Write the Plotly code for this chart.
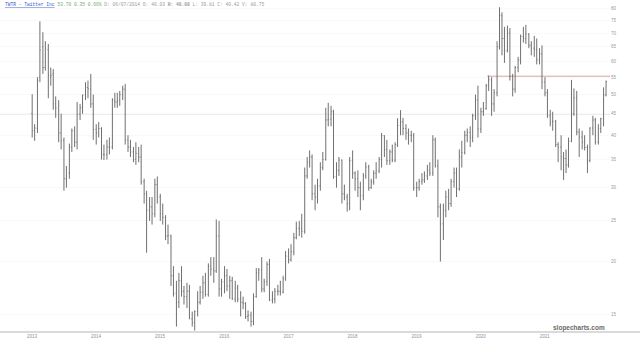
import math
import pandas as pd
import plotly.graph_objects as go

# ---- DATA: TWTR semi-monthly OHLC (Nov 2013 - Oct 2022) ----
period_start = "2013-11-01"
n_periods = 216

opens = [
    45.1, 41.0, 41.6, 55.0,
    65.0, 58.0, 64.0, 55.0, 56.0, 47.5, 46.0, 40.5, 38.9, 31.5, 32.5, 37.5,
    41.0, 38.5, 45.0, 46.5, 50.0, 52.0, 51.6, 47.5, 41.3, 40.5, 41.5, 36.0,
    36.0, 37.5, 37.5, 48.5, 48.0, 48.5, 50.0, 51.5, 39.0, 37.5, 36.5, 35.0,
    36.2, 35.5, 31.0, 29.0, 26.5, 27.0, 26.0, 30.5, 28.5, 26.0, 25.5, 23.0,
    23.0, 18.5, 16.8, 16.0, 18.0, 17.0, 16.5, 17.0, 14.6, 14.3, 15.2, 16.0,
    16.9, 17.8, 16.7, 19.5, 19.2, 19.0, 23.0, 17.2, 17.9, 18.5, 17.5, 18.0,
    16.3, 17.3, 16.3, 16.0, 15.9, 14.8, 14.9, 14.4, 16.5, 18.8, 19.1, 17.2,
    17.9, 19.7, 16.2, 16.3, 17.0, 17.0, 16.9, 18.2, 20.6, 20.2, 21.1, 22.8,
    24.0, 24.0, 23.6, 32.0, 34.5, 35.5, 29.0, 28.5, 30.3, 33.5, 35.0, 43.5,
    43.7, 45.5, 31.9, 33.0, 34.9, 29.0, 28.5, 27.5, 34.8, 32.5, 31.5, 30.0,
    28.7, 32.0, 33.6, 30.0, 31.0, 32.5, 32.9, 35.0, 39.9, 37.0, 34.8, 36.5,
    34.9, 38.0, 42.2, 43.0, 41.5, 40.5, 40.0, 40.0, 30.0, 30.0, 31.0, 31.3,
    32.0, 33.0, 32.5, 39.0, 33.8, 27.0, 24.6, 26.5, 28.5, 27.5, 31.0, 32.5,
    29.8, 35.5, 36.4, 40.0, 40.6, 39.5, 44.5, 48.5, 41.4, 45.5, 46.3, 52.5,
    54.2, 47.5, 50.5, 65.0, 77.0, 68.0, 63.6, 70.0, 55.2, 51.5, 58.0, 60.5,
    68.8, 68.0, 69.7, 65.5, 64.5, 64.0, 60.5, 62.5, 53.5, 50.5, 44.5, 43.0,
    43.2, 38.0, 37.5, 35.5, 35.2, 34.0, 38.7, 45.0, 49.1, 40.7, 39.6, 38.5,
    37.4, 34.8, 41.6, 43.5, 38.5, 41.5, 43.8, 49.9,
]
highs = [
    50.1, 42.5, 55.0, 74.7,
    70.4, 67.0, 66.0, 58.0, 57.5, 49.5, 48.5, 45.0, 39.5, 33.8, 38.2, 41.5,
    42.0, 48.0, 47.5, 50.0, 53.5, 54.0, 56.0, 50.0, 42.5, 43.0, 41.8, 38.0,
    39.0, 39.5, 49.0, 50.5, 50.5, 51.0, 52.5, 53.0, 40.0, 39.0, 37.5, 38.5,
    37.5, 38.0, 31.5, 29.5, 28.5, 28.5, 31.5, 31.9, 29.0, 27.5, 25.8, 24.5,
    23.2, 19.5, 18.0, 18.8, 19.5, 17.5, 17.8, 17.6, 15.2, 15.3, 17.0, 17.5,
    18.5, 18.8, 19.8, 20.5, 20.5, 25.2, 25.0, 18.2, 19.5, 19.2, 18.5, 18.4,
    18.0, 17.6, 17.0, 16.5, 16.0, 15.3, 15.2, 16.8, 19.3, 19.3, 20.5, 18.2,
    20.0, 20.3, 17.0, 17.3, 17.6, 18.0, 18.5, 21.2, 21.5, 22.0, 23.4, 24.9,
    25.0, 26.0, 33.5, 35.5, 36.8, 36.0, 30.5, 31.5, 34.5, 36.5, 46.5, 47.8,
    47.0, 46.0, 34.5, 35.5, 35.0, 30.5, 29.0, 35.5, 36.8, 32.8, 33.0, 31.0,
    32.5, 34.5, 34.0, 31.5, 33.0, 34.5, 35.5, 40.5, 40.0, 39.0, 37.0, 38.0,
    38.5, 43.9, 45.9, 44.0, 42.5, 41.5, 41.0, 40.5, 31.0, 31.5, 32.5, 32.8,
    34.0, 34.5, 40.0, 39.5, 35.0, 27.5, 27.5, 29.5, 29.8, 31.5, 33.5, 33.5,
    37.0, 38.8, 41.0, 41.5, 42.0, 45.0, 50.0, 52.5, 46.5, 48.0, 53.0, 55.5,
    55.0, 51.5, 67.0, 80.75, 78.5, 72.5, 73.0, 72.0, 56.0, 58.5, 61.5, 69.5,
    72.5, 73.3, 70.0, 67.0, 69.0, 68.0, 64.5, 65.5, 55.0, 51.5, 46.0, 45.5,
    43.5, 38.5, 40.0, 36.5, 37.0, 39.5, 54.2, 51.7, 51.0, 41.5, 41.0, 40.0,
    38.0, 41.8, 44.5, 44.0, 42.5, 44.0, 52.0, 54.0,
]
lows = [
    39.5, 38.8, 40.5, 53.5,
    56.0, 57.0, 49.0, 52.5, 46.0, 44.0, 38.5, 37.0, 29.5, 30.0, 31.5, 36.5,
    37.5, 37.0, 43.5, 45.0, 48.5, 49.0, 46.5, 39.0, 38.0, 39.5, 35.0, 34.9,
    35.0, 36.0, 37.0, 46.5, 46.5, 47.0, 48.5, 38.0, 36.5, 35.5, 34.5, 34.0,
    34.5, 30.5, 27.5, 21.0, 25.0, 24.5, 25.5, 27.5, 25.0, 24.5, 22.5, 22.0,
    17.5, 16.5, 14.0, 15.5, 16.5, 15.8, 15.5, 14.6, 14.0, 13.7, 14.8, 15.8,
    16.3, 16.5, 16.5, 18.5, 17.8, 18.8, 16.5, 16.5, 16.8, 17.0, 16.3, 16.2,
    16.0, 16.0, 14.8, 15.4, 14.6, 14.4, 14.0, 14.1, 16.4, 18.0, 16.9, 16.9,
    17.5, 16.1, 15.9, 15.9, 16.6, 16.6, 16.8, 18.0, 19.8, 20.0, 20.7, 22.6,
    23.0, 22.8, 23.3, 31.5, 33.5, 28.0, 26.5, 27.5, 29.5, 33.0, 34.8, 42.0,
    42.0, 31.5, 30.0, 32.0, 27.5, 28.0, 26.3, 26.5, 31.5, 29.5, 28.5, 26.5,
    28.0, 31.5, 29.5, 29.8, 30.5, 31.5, 32.5, 33.5, 35.5, 34.0, 34.0, 34.5,
    34.5, 37.5, 40.0, 40.0, 39.0, 38.0, 38.5, 29.5, 28.5, 29.5, 30.5, 30.8,
    31.3, 32.0, 32.0, 33.5, 25.5, 20.0, 22.5, 25.5, 26.5, 27.0, 30.0, 28.5,
    29.5, 33.5, 36.0, 38.5, 37.5, 38.5, 43.5, 39.5, 40.5, 44.5, 46.0, 51.0,
    44.5, 45.5, 49.5, 64.0, 62.0, 59.5, 63.0, 54.0, 49.5, 50.5, 56.5, 59.0,
    66.5, 66.0, 64.5, 62.0, 61.5, 59.0, 59.0, 51.5, 49.5, 44.0, 42.0, 41.0,
    37.5, 34.5, 33.0, 31.3, 32.5, 33.5, 38.5, 44.5, 40.0, 35.5, 37.0, 36.8,
    32.5, 34.5, 40.0, 38.0, 38.0, 40.5, 42.0, 49.5,
]
closes = [
    41.0, 41.6, 54.0, 63.8,
    58.0, 64.5, 55.5, 55.5, 47.5, 46.5, 40.5, 38.9, 31.5, 32.0, 37.5, 41.0,
    38.5, 44.8, 46.5, 49.8, 52.0, 51.6, 47.5, 41.3, 40.5, 41.5, 36.0, 35.9,
    37.5, 37.5, 48.5, 48.0, 48.5, 50.0, 51.5, 39.0, 37.5, 36.5, 35.0, 36.2,
    35.5, 31.0, 29.0, 26.5, 27.0, 26.0, 30.5, 28.5, 26.0, 25.5, 23.0, 23.1,
    18.5, 16.8, 16.0, 18.0, 17.0, 16.5, 17.0, 14.6, 14.3, 15.2, 16.0, 16.9,
    17.8, 16.7, 19.5, 19.2, 19.0, 23.0, 17.2, 17.9, 18.5, 17.5, 18.0, 16.3,
    17.3, 16.3, 16.0, 15.9, 14.8, 14.9, 14.4, 16.5, 18.8, 19.1, 17.2, 17.9,
    19.7, 16.2, 16.3, 17.0, 17.0, 16.9, 18.2, 20.6, 20.2, 21.1, 22.8, 24.0,
    24.0, 23.6, 32.0, 34.5, 35.5, 29.0, 28.5, 30.3, 33.5, 35.0, 43.5, 43.7,
    45.5, 31.9, 33.0, 34.9, 29.0, 28.5, 27.5, 34.8, 32.5, 31.5, 30.0, 28.7,
    32.0, 33.6, 30.0, 31.0, 32.5, 32.9, 35.0, 39.9, 37.0, 34.8, 36.5, 34.9,
    38.0, 42.2, 43.0, 41.5, 40.5, 40.0, 40.0, 30.0, 30.0, 31.0, 31.3, 32.0,
    33.0, 32.5, 39.0, 33.8, 27.0, 24.6, 26.5, 28.5, 27.5, 31.0, 32.5, 29.8,
    35.5, 36.4, 40.0, 40.6, 39.5, 44.5, 48.5, 41.4, 45.5, 46.3, 52.5, 54.2,
    47.5, 50.5, 65.0, 77.2, 68.0, 63.6, 70.0, 55.2, 51.5, 58.0, 60.5, 68.8,
    68.0, 69.7, 65.5, 64.5, 64.0, 60.5, 62.5, 53.5, 50.5, 44.5, 43.0, 43.2,
    38.0, 37.5, 35.5, 35.2, 34.0, 38.7, 45.0, 49.1, 40.7, 39.6, 38.5, 37.4,
    34.8, 41.6, 43.5, 38.5, 41.5, 43.8, 49.9, 53.7,
]

y_tick_values = [15, 20, 25, 30, 35, 40, 45, 50, 55, 60, 65, 70, 75, 80]
x_tick_labels = ["2013", "2014", "2015", "2016", "2017", "2018", "2019", "2020", "2021"]
x_tick_dates = ["2013-11-07", "2014-11-07", "2015-11-07", "2016-11-07", "2017-11-07",
                "2018-11-07", "2019-11-07", "2020-11-07", "2021-11-07"]

support_level = 45.0
resistance_level = 55.3
resistance_start = "2020-12-14"

header_ticker = "TWTR - Twitter Inc"
header_change = "53.70 0.35 0.66%"
header_rest = "D: 06/07/2014 O: 40.03 <b>H: 40.08</b> L: 39.81 C: 40.42 V: 80.75"
watermark = "slopecharts.com"

# ---- FIGURE ----
dates = pd.date_range(period_start, periods=n_periods, freq="SMS") + pd.Timedelta(days=7)

W, H = 640, 343
ML, MR, MT, MB = 0, 30, 0, 11
plot_w = W - ML - MR
plot_h = H - MT - MB

px_per_year = 64.1
anchor = pd.Timestamp("2013-11-07")
anchor_px = 32
x0 = anchor - pd.Timedelta(days=anchor_px / px_per_year * 365.25)
x1 = anchor + pd.Timedelta(days=(plot_w - anchor_px) / px_per_year * 365.25)

bar_color = "#707070"
fig = go.Figure()
fig.add_trace(go.Ohlc(
    x=dates, open=opens, high=highs, low=lows, close=closes,
    increasing=dict(line=dict(color=bar_color, width=1)),
    decreasing=dict(line=dict(color=bar_color, width=1)),
    tickwidth=0.3, hoverinfo="skip", showlegend=False,
))

# shapes on a log axis take plain data values
fig.add_shape(type="line", xref="x", yref="y", x0=x0, x1=x1,
              y0=support_level, y1=support_level,
              line=dict(color="#b8b8b8", width=1), layer="below")
fig.add_shape(type="line", xref="x", yref="y", x0=resistance_start, x1=x1,
              y0=resistance_level, y1=resistance_level,
              line=dict(color="#dea0a0", width=1), layer="below")
fig.add_shape(type="line", xref="paper", yref="paper", x0=0, x1=W / plot_w,
              y0=0, y1=0, line=dict(color="#b5b5b5", width=1))

fig.add_annotation(
    xref="paper", yref="paper", x=3 / plot_w, y=1 - 4.5 / plot_h,
    xanchor="left", yanchor="middle", showarrow=False,
    text=(f'<span style="color:#3b56c8"><u>{header_ticker}</u></span> '
          f'<span style="color:#7aa86a">{header_change}</span> '
          f'<span style="color:#9a9a9a">{header_rest}</span>'),
    font=dict(family="Liberation Mono", size=4.6, color="#9a9a9a"),
)
fig.add_annotation(
    xref="paper", yref="paper", x=607 / plot_w, y=1 - 327.5 / plot_h,
    xanchor="right", yanchor="middle", showarrow=False,
    text=f"<b>{watermark}</b>",
    font=dict(family="Liberation Sans", size=6.5, color="#6a6a6a"),
)

fig.update_layout(
    width=W, height=H,
    margin=dict(l=ML, r=MR, t=MT, b=MB, pad=0),
    paper_bgcolor="white", plot_bgcolor="white",
    showlegend=False,
    xaxis=dict(
        type="date", range=[x0, x1], rangeslider=dict(visible=False),
        tickvals=x_tick_dates, ticktext=x_tick_labels,
        tickfont=dict(family="Liberation Sans", size=4.5, color="#8a90aa"),
        showgrid=False, zeroline=False, showline=False, ticks="",
    ),
    yaxis=dict(
        type="log", side="right",
        range=[math.log10(13.59), math.log10(84.0)],
        tickvals=y_tick_values, ticktext=[str(v) for v in y_tick_values],
        tickfont=dict(family="Liberation Sans", size=4.5, color="#9a9a9a"),
        showgrid=True, gridcolor="#f9f9f9", gridwidth=1,
        zeroline=False, showline=False, ticks="",
    ),
)

fig.write_html("out.html")
